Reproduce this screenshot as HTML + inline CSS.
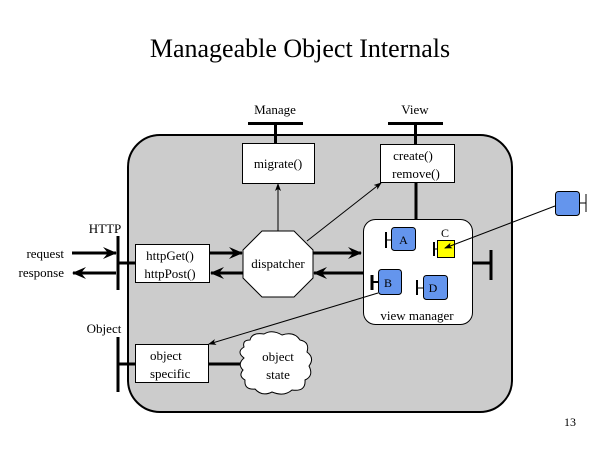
<!DOCTYPE html>
<html><head><meta charset="utf-8"><style>
html,body{margin:0;padding:0;background:#fff}
svg{display:block}
svg text{font-family:"Liberation Serif","Times New Roman",serif;fill:#000}
</style></head><body>
<svg width="600" height="450" viewBox="0 0 600 450" xmlns="http://www.w3.org/2000/svg" font-family="Liberation Serif, serif">
<defs>
<marker id="big" markerWidth="14" markerHeight="12" refX="13" refY="6" orient="auto" markerUnits="userSpaceOnUse">
<path d="M0,0 L14,6 L0,12 L5,6 Z" fill="#000"/></marker>
<marker id="sm" markerWidth="8" markerHeight="8" refX="7" refY="4" orient="auto" markerUnits="userSpaceOnUse">
<path d="M0,1 L8,4 L0,7 L2,4 Z" fill="#000"/></marker>
</defs>
<text x="300" y="57" font-size="26" text-anchor="middle">Manageable Object Internals</text>
<rect x="128" y="135" width="384" height="277" rx="32" ry="32" fill="#cccccc" stroke="#000" stroke-width="2"/>
<text x="275" y="114" font-size="13" text-anchor="middle">Manage</text>
<line x1="248" y1="123.5" x2="303" y2="123.5" stroke="#000" stroke-width="3"/>
<line x1="275.5" y1="123" x2="275.5" y2="143" stroke="#000" stroke-width="3"/>
<rect x="242.5" y="143.5" width="72" height="40" fill="#fff" stroke="#000"/>
<text x="278" y="168" font-size="13" text-anchor="middle">migrate()</text>
<text x="415" y="114" font-size="13" text-anchor="middle">View</text>
<line x1="388" y1="123.5" x2="443" y2="123.5" stroke="#000" stroke-width="3"/>
<line x1="415.5" y1="123" x2="415.5" y2="144" stroke="#000" stroke-width="3"/>
<line x1="416" y1="182" x2="416" y2="219" stroke="#000" stroke-width="3"/>
<rect x="380.5" y="144.5" width="74" height="38" fill="#fff" stroke="#000"/>
<text x="413" y="160" font-size="13" text-anchor="middle">create()</text>
<text x="416" y="178" font-size="13" text-anchor="middle">remove()</text>
<text x="105" y="233" font-size="13" text-anchor="middle">HTTP</text>
<line x1="118" y1="236" x2="118" y2="290" stroke="#000" stroke-width="3"/>
<line x1="118" y1="263" x2="135" y2="263" stroke="#000" stroke-width="3"/>
<text x="64" y="258" font-size="13" text-anchor="end">request</text>
<text x="64" y="277" font-size="13" text-anchor="end">response</text>
<line x1="72" y1="253" x2="116" y2="253" stroke="#000" stroke-width="3" marker-end="url(#big)"/>
<line x1="116" y1="273" x2="73" y2="273" stroke="#000" stroke-width="3" marker-end="url(#big)"/>
<rect x="135.5" y="244.5" width="74" height="38" fill="#fff" stroke="#000"/>
<text x="170" y="260" font-size="13" text-anchor="middle">httpGet()</text>
<text x="170" y="278" font-size="13" text-anchor="middle">httpPost()</text>
<line x1="210" y1="253" x2="242" y2="253" stroke="#000" stroke-width="3" marker-end="url(#big)"/>
<line x1="243" y1="273" x2="211" y2="273" stroke="#000" stroke-width="3" marker-end="url(#big)"/>
<polygon points="262,231 294,231 313,250 313,278 294,297 262,297 243,278 243,250" fill="#fff" stroke="#000"/>
<text x="278" y="268" font-size="13" text-anchor="middle">dispatcher</text>
<line x1="278" y1="231" x2="278" y2="184" stroke="#000" marker-end="url(#sm)"/>
<line x1="307" y1="241" x2="381" y2="183" stroke="#000" marker-end="url(#sm)"/>
<line x1="313" y1="253" x2="361" y2="253" stroke="#000" stroke-width="3" marker-end="url(#big)"/>
<line x1="363" y1="273" x2="314" y2="273" stroke="#000" stroke-width="3" marker-end="url(#big)"/>
<rect x="363.5" y="219.5" width="109" height="105" rx="12" fill="#fff" stroke="#000"/>
<text x="417" y="320" font-size="13" text-anchor="middle">view manager</text>
<line x1="472" y1="263" x2="491" y2="263" stroke="#000" stroke-width="3"/>
<line x1="491" y1="250" x2="491" y2="280" stroke="#000" stroke-width="3"/>
<line x1="386" y1="232" x2="386" y2="248" stroke="#000" stroke-width="2"/>
<line x1="386" y1="240" x2="392" y2="240" stroke="#000"/>
<rect x="391.5" y="227.5" width="24" height="23" rx="3" fill="#6495ed" stroke="#000"/>
<text x="403.5" y="244" font-size="12" text-anchor="middle">A</text>
<text x="445" y="237" font-size="12" text-anchor="middle">C</text>
<line x1="434" y1="242" x2="434" y2="256" stroke="#000" stroke-width="2"/>
<line x1="434" y1="249" x2="438" y2="249" stroke="#000"/>
<rect x="437.5" y="240.5" width="17" height="17" fill="#ffff00" stroke="#000"/>
<line x1="372" y1="275" x2="372" y2="290" stroke="#000" stroke-width="3"/>
<line x1="372" y1="282" x2="378" y2="282" stroke="#000" stroke-width="2"/>
<rect x="378.5" y="269.5" width="23" height="25" rx="3" fill="#6495ed" stroke="#000"/>
<text x="388" y="287" font-size="12" text-anchor="middle">B</text>
<line x1="417" y1="280" x2="417" y2="295" stroke="#000" stroke-width="2"/>
<line x1="417" y1="288" x2="423" y2="288" stroke="#000"/>
<rect x="423.5" y="275.5" width="24" height="24" rx="3" fill="#6495ed" stroke="#000"/>
<text x="433" y="292" font-size="12" text-anchor="middle">D</text>
<rect x="555.5" y="191.5" width="24" height="24" rx="3" fill="#6495ed" stroke="#000"/>
<line x1="580" y1="203" x2="586" y2="203" stroke="#000"/>
<line x1="586" y1="194" x2="586" y2="212" stroke="#000"/>
<line x1="555" y1="206" x2="445" y2="248" stroke="#000" marker-end="url(#sm)"/>
<line x1="378" y1="293" x2="209" y2="344" stroke="#000" marker-end="url(#sm)"/>
<text x="104" y="333" font-size="13" text-anchor="middle">Object</text>
<line x1="118" y1="337" x2="118" y2="392" stroke="#000" stroke-width="3"/>
<line x1="118" y1="364" x2="135" y2="364" stroke="#000" stroke-width="3"/>
<rect x="135.5" y="344.5" width="73" height="38" fill="#fff" stroke="#000"/>
<text x="150" y="360" font-size="13">object</text>
<text x="150" y="378" font-size="13">specific</text>
<line x1="209" y1="364" x2="245" y2="364" stroke="#000" stroke-width="3"/>
<path d="M250,340 Q252,332 264,334 Q272,329 282,335 Q294,331 300,340 Q310,342 307,352 Q315,358 309,366 Q314,376 305,380 Q306,392 292,390 Q284,397 272,392 Q262,397 255,389 Q244,390 245,380 Q238,376 243,370 Q237,364 244,358 Q236,352 244,347 Q242,340 250,340 Z" fill="#fff" stroke="#000"/>
<text x="278" y="361" font-size="13" text-anchor="middle">object</text>
<text x="278" y="379" font-size="13" text-anchor="middle">state</text>
<text x="570" y="426" font-size="12" text-anchor="middle">13</text>
</svg>
</body></html>
